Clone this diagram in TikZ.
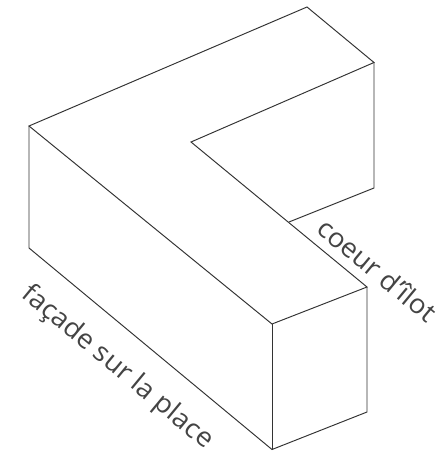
\documentclass[tikz,border=0pt]{standalone}
\usepackage{fontspec}
\setmainfont{Open Sans}[FakeStretch=1.04]
\usetikzlibrary{positioning,calc}
\definecolor{trait}{HTML}{333333}
\definecolor{texte}{HTML}{444444}
\tikzset{
  arete/.style={draw=trait, line width=0.55pt, line join=miter},
  legende/.style={text=texte, font=\fontsize{15.2pt}{17pt}\selectfont, inner sep=0pt, anchor=center}
}
\begin{document}
\begin{tikzpicture}[x=0.02cm, y=-0.02cm]
  \useasboundingbox (0,0) rectangle (442,456);

  % Points of the volume
  \coordinate (hautG) at (29,126);
  \coordinate (basG) at (29,248);
  \coordinate (sommet) at (307,7);
  \coordinate (hautD) at (374,62.5);
  \coordinate (basD) at (374,188);
  \coordinate (angle) at (191,142);
  \coordinate (jonction) at (289,222);
  \coordinate (bout) at (367,287);
  \coordinate (boutBas) at (367,412);
  \coordinate (avant) at (272,324);
  \coordinate (avantBas) at (272,449.5);

  % Top face
  \draw[arete] (hautG) -- (sommet) -- (hautD) -- (angle) -- (bout) -- (avant) -- cycle;

  % Vertical faces
  \draw[arete] (hautG) -- (basG) -- (avantBas) -- (boutBas) -- (bout);
  \draw[arete] (avant) -- (avantBas);
  \draw[arete] (hautD) -- (basD) -- (jonction);

  % Labels
  \node[legende, rotate=-39.6] (facade) at (117,367.5) {façade sur la place};
  \node[legende, rotate=-39.6] (coeur) at (377.5,270) {coeur d'\kern0.6pt îlot};
\end{tikzpicture}
\end{document}
